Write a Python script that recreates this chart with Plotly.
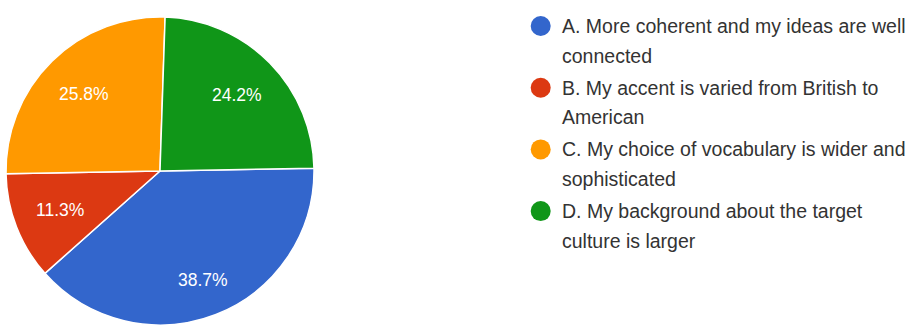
import math
import plotly.graph_objects as go

# ---- data ----
categories = [
    "A. More coherent and my ideas are well connected",
    "B. My accent is varied from British to American",
    "C. My choice of vocabulary is wider and sophisticated",
    "D. My background about the target culture is larger",
]
legend_lines = [
    ["A. More coherent and my ideas are well", "connected"],
    ["B. My accent is varied from British to", "American"],
    ["C. My choice of vocabulary is wider and", "sophisticated"],
    ["D. My background about the target", "culture is larger"],
]
responses = [24, 7, 16, 15]
colors = ["#3366CC", "#DC3912", "#FF9900", "#109618"]

# ---- layout constants ----
W, H = 914, 325
CX, CY, R = 160, 171, 154
ROTATION = 89  # degrees clockwise from 12 o'clock where first slice starts
LABEL_K = [0.76, 0.70, 0.70, 0.70]
FONT = "Arial, Liberation Sans, sans-serif"
TXT = "#333333"

fig = go.Figure()
fig.add_trace(go.Pie(
    labels=categories,
    values=responses,
    sort=False,
    direction="clockwise",
    rotation=ROTATION,
    marker=dict(colors=colors, line=dict(color="white", width=1.5)),
    textinfo="none",
    hoverinfo="label+percent",
    showlegend=False,
    domain=dict(x=[(CX - R) / W, (CX + R) / W],
                y=[(H - CY - R) / H, (H - CY + R) / H]),
))

annotations = []
total = sum(responses)
start = ROTATION
for v, k in zip(responses, LABEL_K):
    span = v / total * 360
    mid = math.radians(start + span / 2)
    px = CX + k * R * math.sin(mid)
    py = CY - k * R * math.cos(mid)
    annotations.append(dict(
        x=px / W, y=(H - py) / H, xref="paper", yref="paper",
        text=f"{v / total * 100:.1f}%", showarrow=False,
        font=dict(family=FONT, size=17.5, color="white"),
        xanchor="center", yanchor="middle",
    ))
    start += span

# legend
shapes = []
LX_DOT, LX_TXT = 540.7, 560
LY0, LSTEP, LLINE, DOT_R = 26, 61.7, 29.5, 10
for i, (lines, c) in enumerate(zip(legend_lines, colors)):
    y = LY0 + i * LSTEP
    shapes.append(dict(
        type="circle", xref="paper", yref="paper",
        x0=(LX_DOT - DOT_R) / W, x1=(LX_DOT + DOT_R) / W,
        y0=(H - y - DOT_R) / H, y1=(H - y + DOT_R) / H,
        fillcolor=c, line=dict(width=0),
    ))
    for j, t in enumerate(lines):
        yy = y + j * LLINE
        annotations.append(dict(
            x=LX_TXT / W, y=(H - yy) / H, xref="paper", yref="paper",
            text=t, showarrow=False, xanchor="left", yanchor="middle",
            font=dict(family=FONT, size=19.5, color=TXT),
        ))

fig.update_layout(
    width=W, height=H,
    margin=dict(l=0, r=0, t=0, b=0),
    paper_bgcolor="white", plot_bgcolor="white",
    annotations=annotations, shapes=shapes,
    showlegend=False,
)
fig.write_html("out.html")
